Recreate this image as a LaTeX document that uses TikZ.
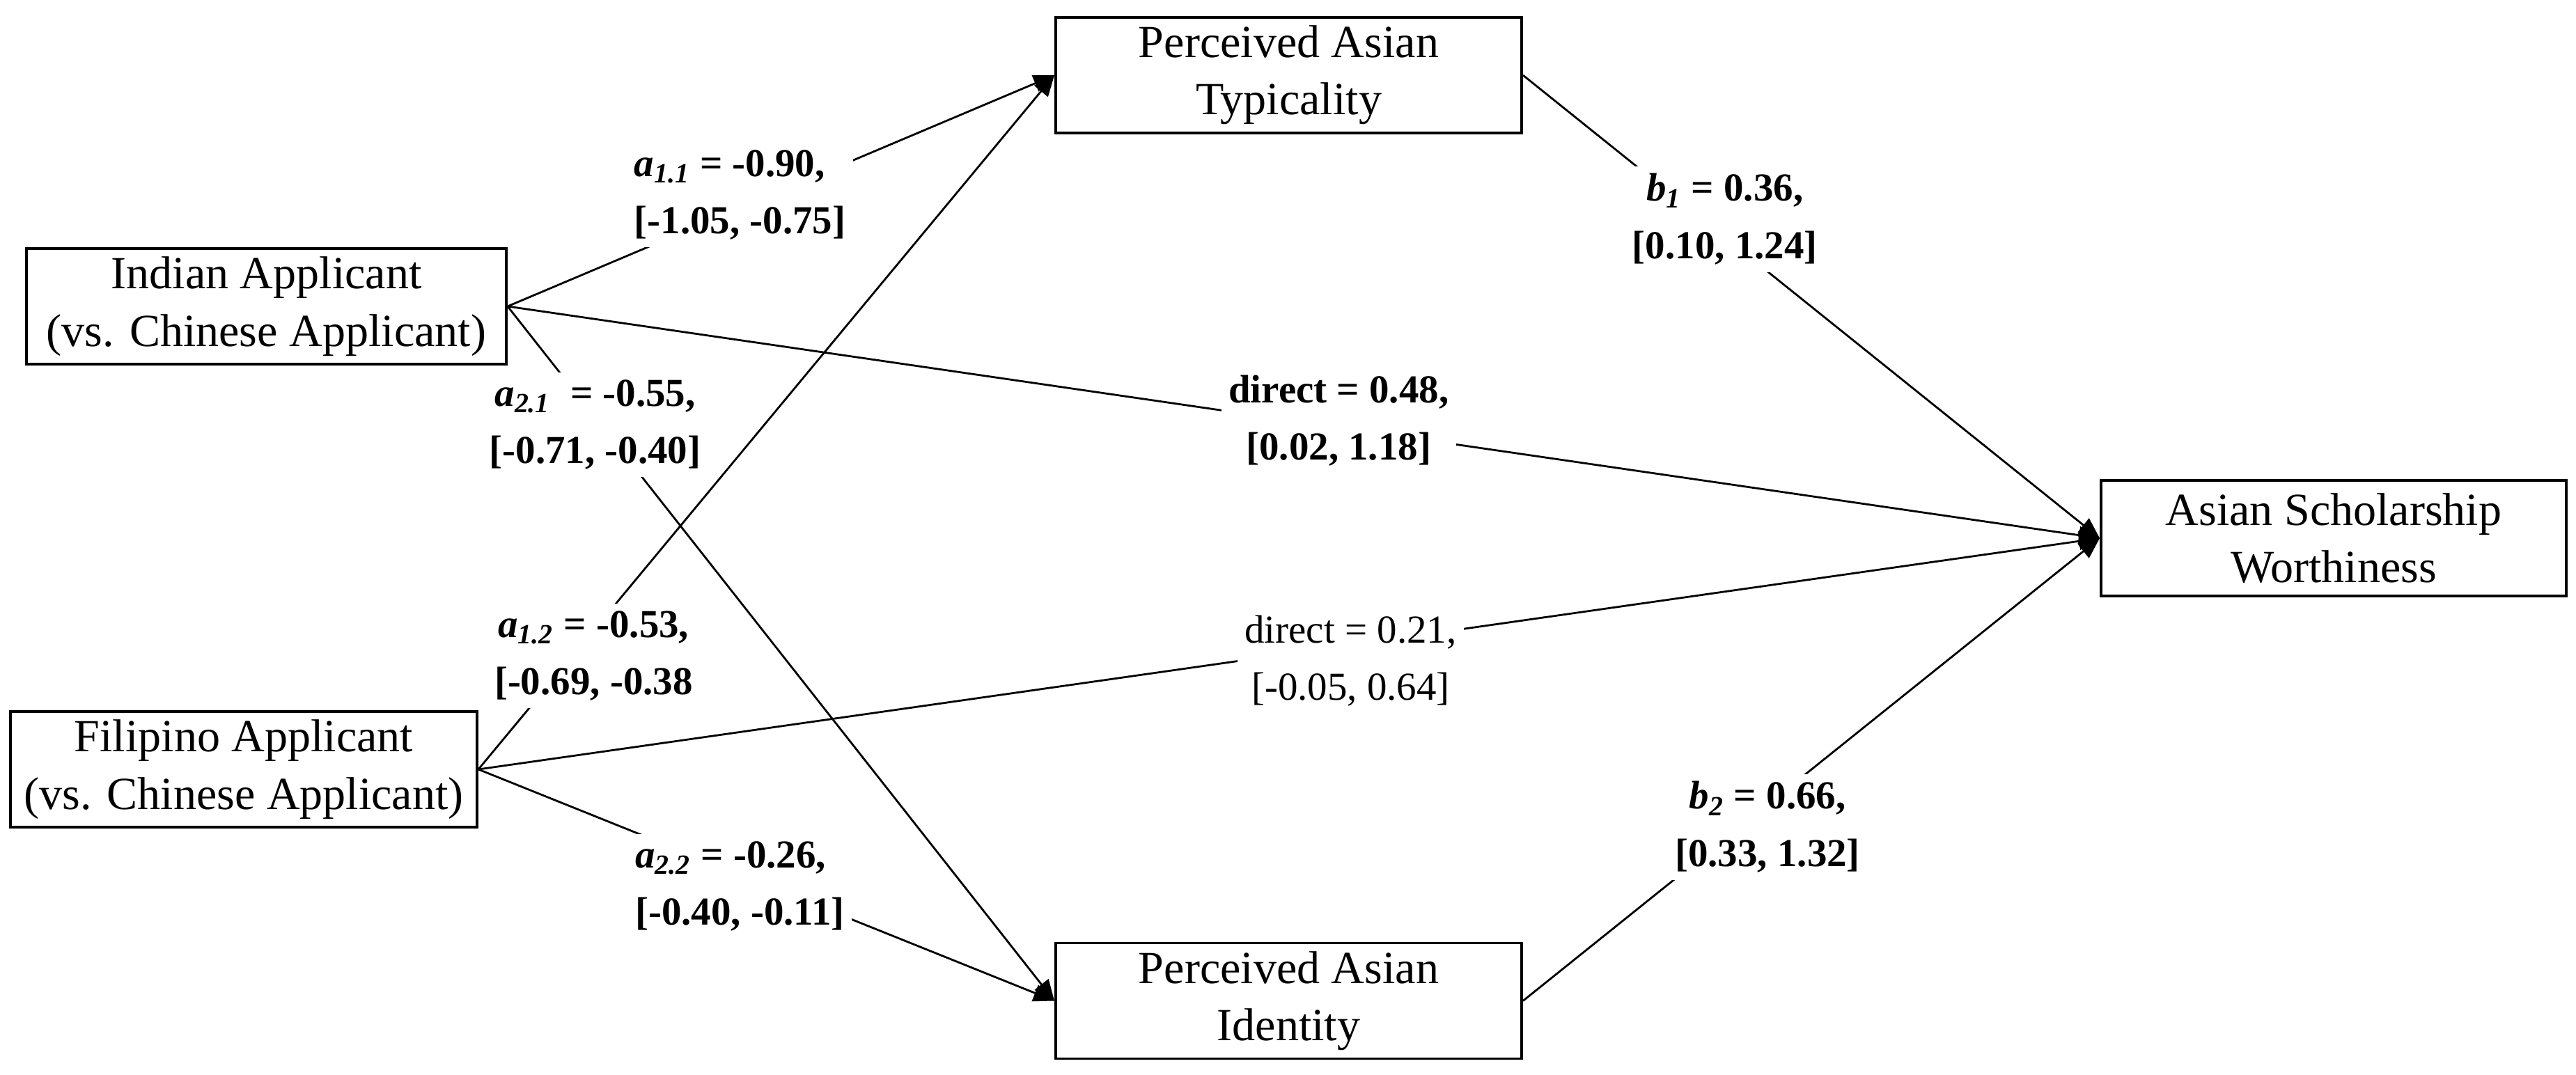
\documentclass[tikz,border=0pt]{standalone}
\usepackage{fontspec}
\setmainfont{Liberation Serif}
\usetikzlibrary{arrows.meta}

\tikzset{
  VarBox/.style={draw, line width=1.1pt, align=center, inner sep=2pt,
    minimum width=6.69cm, minimum height=1.66cm,
    font=\fontsize{18.8}{23.4}\selectfont},
  PathArrow/.style={line width=0.8pt, -{Triangle[length=0.3cm,width=0.25cm]}},
  Coef/.style={fill=white, inner sep=3pt, align=center,
    font=\fontsize{16.2}{23.4}\selectfont\bfseries},
  CoefPlain/.style={Coef, font=\fontsize{16.2}{23.4}\selectfont}
}

\begin{document}
\begin{tikzpicture}
            \useasboundingbox (0,0) rectangle (36.99,15.43);

            \node[VarBox, minimum width=6.89cm] (indian) at (3.825,11.03) {Indian Applicant\\(vs. Chinese Applicant)};
            \node[VarBox, minimum width=6.70cm] (filipino) at (3.50,4.38) {Filipino Applicant\\(vs. Chinese Applicant)};
            \node[VarBox] (typical) at (18.505,14.35) {Perceived Asian\\Typicality};
            \node[VarBox] (identity) at (18.505,1.055) {Perceived Asian\\Identity};
            \node[VarBox, minimum width=6.68cm] (worth) at (33.51,7.70) {Asian Scholarship\\Worthiness};

            \draw[PathArrow] (indian.east) -- node[Coef, align=left, pos=0.425, yshift=0.19cm]
                {\textit{a}\textsubscript{\textit{1.1}} = -0.90,\\{[}-1.05, -0.75]} (typical.west);
            \draw[PathArrow] (indian.east) -- node[Coef, pos=0.16, yshift=-0.1cm]
                {\textit{a}\textsubscript{\textit{2.1}}\ \ = -0.55,\\{[}-0.71, -0.40]} (identity.west);
            \draw[PathArrow] (indian.east) -- node[Coef, pos=0.522, yshift=0.1cm]
                {direct = 0.48,\\{[}0.02, 1.18]} (worth.west);

            \draw[PathArrow] (filipino.east) -- node[Coef, pos=0.2, yshift=-0.36cm]
                {\textit{a}\textsubscript{\textit{1.2}} = -0.53,\\{[}-0.69, -0.38} (typical.west);
            \draw[PathArrow] (filipino.east) -- node[Coef, align=left, pos=0.454, yshift=-0.17cm]
                {\textit{a}\textsubscript{\textit{2.2}} = -0.26,\\{[}-0.40, -0.11]} (identity.west);
            \draw[PathArrow] (filipino.east) -- node[CoefPlain, pos=0.538, yshift=-0.23cm]
                {direct = 0.21,\\{[}-0.05, 0.64]} (worth.west);

            \draw[PathArrow] (typical.east) -- node[Coef, pos=0.35, yshift=0.26cm]
                {\textit{b}\textsubscript{\textit{1}} = 0.36,\\{[}0.10, 1.24]} (worth.west);
            \draw[PathArrow] (identity.east) -- node[Coef, pos=0.424, yshift=-0.32cm]
                {\textit{b}\textsubscript{\textit{2}} = 0.66,\\{[}0.33, 1.32]} (worth.west);
\end{tikzpicture}
\end{document}
